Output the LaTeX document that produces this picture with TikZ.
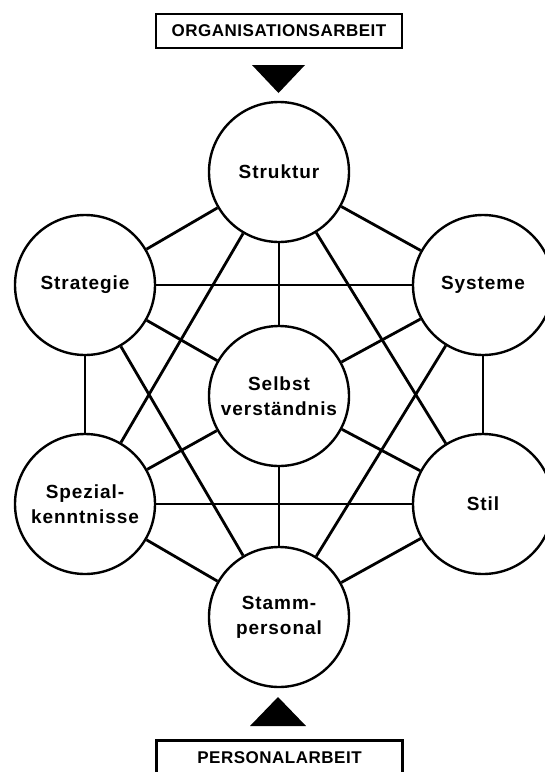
\documentclass[tikz,border=0pt]{standalone}
\usepackage{fontspec}
\setmainfont{Liberation Sans}
\usetikzlibrary{positioning}
\tikzset{
  factor/.style={circle,draw,fill=white,line width=1.2pt,
    minimum size=70pt,inner sep=0pt,align=center,
    font=\fontsize{9.5}{12.5}\selectfont\bfseries\addfontfeature{LetterSpace=5}},
  areabox/.style={draw,line width=1.1pt,minimum width=123pt,
    minimum height=17pt,inner sep=0pt,
    font=\fontsize{8.5}{10}\selectfont\bfseries\addfontfeature{LetterSpace=3}},
  link/.style={line width=1.4pt}
}

\begin{document}
\begin{tikzpicture}[x=0.5pt,y=-0.5pt]
  \useasboundingbox (0,0) rectangle (545,772);

  % the seven factors
  \node[factor] (struktur)  at (279,172) {Struktur};
  \node[factor] (strategie) at (85,285)  {Strategie};
  \node[factor] (systeme)   at (483,285) {Systeme};
  \node[factor] (selbst)    at (279,396) {Selbst\\verständnis};
  \node[factor] (spezial)   at (85,504)  {Spezial-\\kenntnisse};
  \node[factor] (stil)      at (483,504) {Stil};
  \node[factor] (stamm)     at (279,617) {Stamm-\\personal};

  % connections
  \foreach \a/\b in {struktur/strategie,struktur/systeme,strategie/spezial,
      systeme/stil,spezial/stamm,stil/stamm,
      struktur/spezial,struktur/stil,strategie/stamm,systeme/stamm,
      strategie/systeme,spezial/stil}
    \draw[link] (\a) -- (\b);
  \foreach \b in {struktur,strategie,systeme,spezial,stil,stamm}
    \draw[link] (selbst) -- (\b);

  % the two kinds of work
  \node[areabox] (orga) at (279,31) {ORGANISATIONSARBEIT};
  \node[areabox] (personal) at (279.5,757.5) {PERSONALARBEIT};
  \fill (252,65) -- (305,65) -- (278.5,93) -- cycle;
  \fill (250,726) -- (306,726) -- (278,697) -- cycle;
\end{tikzpicture}
\end{document}
